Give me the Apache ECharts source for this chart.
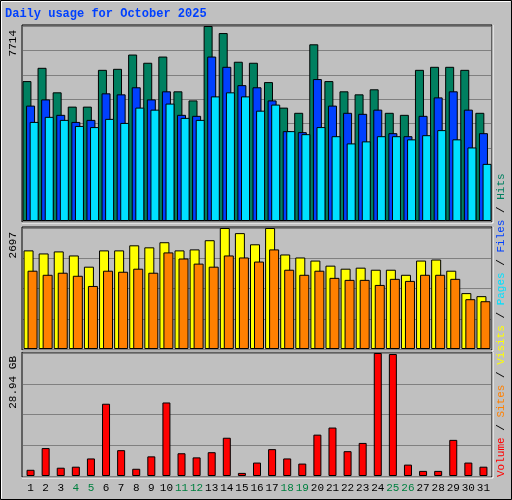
<!DOCTYPE html>
<html><head><meta charset="utf-8">
<script src="https://cdn.jsdelivr.net/npm/echarts@6/dist/echarts.min.js"></script>
<style>html,body{margin:0;padding:0;background:#C0C0C0}#c{width:512px;height:500px}</style>
</head><body><div id="c"></div>
<script>
const days = ['1','2','3','4','5','6','7','8','9','10','11','12','13','14','15','16','17','18','19','20','21','22','23','24','25','26','27','28','29','30','31'];
const weekends = ['4','5','11','12','18','19','25','26'];
const hits = [5535,6060,5090,4525,4525,5980,6020,6585,6260,6505,5130,4770,7714,7435,6300,6260,5495,4485,4280,6990,5535,5130,5010,5210,4280,4200,5980,6100,6100,5980,4280];
const files = [4565,4810,4200,3920,4000,5050,5010,5290,4810,5130,4200,4160,6505,6100,5375,5290,4770,3555,3515,5615,4565,4280,4240,4405,3475,3355,4160,4890,5130,4405,3475];
const pages = [3920,4120,4000,3760,3715,4040,3880,4485,4405,4645,4080,4000,4930,5090,4930,4365,4605,3555,3435,3715,3355,3070,3150,3355,3355,3230,3395,3595,3230,2910,2260];
const visits = [2198,2130,2175,2085,1835,2198,2198,2311,2266,2380,2198,2220,2425,2697,2583,2334,2697,2107,2040,1971,1858,1790,1813,1767,1767,1654,1971,1994,1745,1246,1178];
const sites = [1745,1654,1700,1632,1405,1745,1722,1790,1700,2153,2017,1903,1835,2085,2040,1949,2220,1767,1654,1745,1586,1541,1541,1428,1564,1518,1654,1654,1564,1110,1065];
const volumeGB = [1.46,6.57,1.95,2.19,4.13,17.0,6.08,1.7,4.62,17.3,5.35,4.38,5.6,9.0,0.73,3.16,6.32,4.13,2.92,9.73,11.4,5.84,7.78,28.94,28.7,2.68,1.2,1.2,8.5,3.16,2.19];
const maxHits = 7714, maxVisits = 2697, maxVol = 28.94;
const title = 'Daily usage for October 2025';

const font = 'Liberation Mono';
const chart = echarts.init(document.getElementById('c'));
const grids = [
  {left:23,right:21,top:26,height:195},
  {left:23,right:21,top:228,height:121},
  {left:23,right:21,top:353,height:123}
];
function xAx(i, show){
  return {type:'category',data:days,gridIndex:i,boundaryGap:true,
    axisLine:{show:false},axisTick:{show:false},splitLine:{show:false},
    axisLabel:{show:show,interval:0,margin:7,fontFamily:font,fontSize:11,
      formatter:v=>weekends.includes(v)?'{w|'+v+'}':'{n|'+v+'}',
      rich:{w:{color:'#008040',fontFamily:font,fontSize:11},n:{color:'#000',fontFamily:font,fontSize:11}}}};
}
function yAx(i,max,n){
  return {type:'value',gridIndex:i,min:0,max:max,interval:max/n,axisLabel:{show:false},
    axisLine:{show:false},axisTick:{show:false},splitLine:{lineStyle:{color:'#808080',width:1}}};
}
function bar(name,data,color,i,w){
  return {name,type:'bar',data,xAxisIndex:i,yAxisIndex:i,barWidth:w,barGap:'-60%',
    itemStyle:{color,borderColor:'#000',borderWidth:1},animation:false,silent:true};
}
const box = g => ({type:'rect',shape:{x:g.left-1,y:g.top-1,width:512-g.left-g.right+2,height:g.height+2},
  style:{fill:'none',stroke:'#000',lineWidth:1}});
const boxHi = g => ({type:'polyline',shape:{points:[[g.left-1,g.top+g.height+2],[512-g.right+2,g.top+g.height+2],[512-g.right+2,g.top-1]]},style:{stroke:'#fff',lineWidth:1,fill:null}});
chart.setOption({
  animation:false,
  backgroundColor:'#C0C0C0',
  grid:grids,
  xAxis:[xAx(0,false),xAx(1,false),xAx(2,true)],
  yAxis:[yAx(0,maxHits,8),yAx(1,maxVisits,4),yAx(2,maxVol,4)],
  series:[
    bar('Hits',hits,'#008060',0,9),
    bar('Files',files,'#0040FF',0,9),
    bar('Pages',pages,'#00E0FF',0,9),
    bar('Visits',visits,'#FFFF00',1,10),
    bar('Sites',sites,'#FF8000',1,10),
    bar('Volume',volumeGB,'#FF0000',2,8)
  ],
  graphic:[
    {type:'rect',shape:{x:0.5,y:0.5,width:511,height:499},style:{fill:'none',stroke:'#000'}},
    {type:'polyline',shape:{points:[[1.5,498.5],[1.5,1.5],[510.5,1.5]]},style:{stroke:'#fff',fill:null}},
    box(grids[0]),box(grids[1]),box(grids[2]),boxHi(grids[0]),boxHi(grids[1]),boxHi(grids[2]),
    {type:'text',left:5,top:8,style:{text:title,fill:'#0040FF',font:'bold 12px '+font}},
    {type:'text',x:19,y:30,rotation:Math.PI/2,style:{text:String(maxHits),fill:'#000',font:'11px '+font,align:'right',verticalAlign:'bottom'}},
    {type:'text',x:19,y:232,rotation:Math.PI/2,style:{text:String(maxVisits),fill:'#000',font:'11px '+font,align:'right',verticalAlign:'bottom'}},
    {type:'text',x:19,y:356,rotation:Math.PI/2,style:{text:maxVol+' GB',fill:'#000',font:'11px '+font,align:'right',verticalAlign:'bottom'}},
    {type:'text',x:507,y:477,rotation:Math.PI/2,style:{
      text:'{r|Volume}{k| / }{o|Sites}{k| / }{y|Visits}{k| / }{c|Pages}{k| / }{b|Files}{k| / }{g|Hits}',
      align:'left',verticalAlign:'bottom',
      rich:{r:{fill:'#FF0000',font:'11px '+font},k:{fill:'#000',font:'11px '+font},o:{fill:'#FF8000',font:'11px '+font},
        y:{fill:'#FFFF00',font:'11px '+font},c:{fill:'#00E0FF',font:'11px '+font},b:{fill:'#0040FF',font:'11px '+font},g:{fill:'#008060',font:'11px '+font}}}}
  ]
});
</script></body></html>
